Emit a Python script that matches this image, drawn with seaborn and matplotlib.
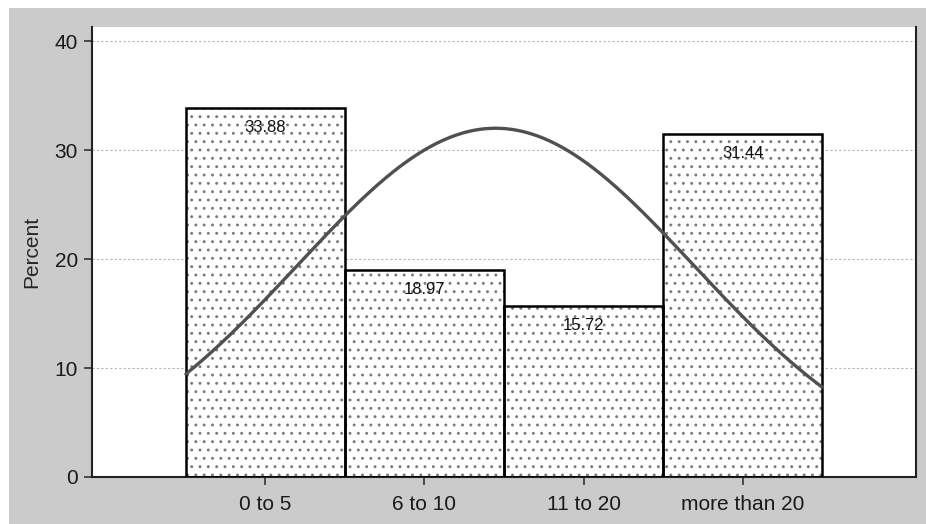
import numpy as np
import pandas as pd
import matplotlib
matplotlib.use("Agg")
import matplotlib.pyplot as plt
from matplotlib.patches import Rectangle
import seaborn as sns

# dados do histograma
categorias = ["0 to 5", "6 to 10", "11 to 20", "more than 20"]
codigos = [1, 2, 3, 4]
percentuais = [33.88, 18.97, 15.72, 31.44]
yticks = [0, 10, 20, 30, 40]

sns.set_style("white")
plt.rcParams["font.family"] = ["Liberation Sans", "DejaVu Sans"]
plt.rcParams["hatch.linewidth"] = 0.9

df = pd.DataFrame({"categoria": categorias, "percentual": percentuais})

# curva normal a partir da media e desvio dos dados
cod = np.array(codigos, dtype=float)
p = np.array(percentuais) / np.sum(percentuais)
media = np.sum(cod * p)
dp = np.sqrt(np.sum(p * (cod - media) ** 2))
xs = np.linspace(cod[0] - 0.5, cod[-1] + 0.5, 300)
ys = 100 * np.exp(-0.5 * ((xs - media) / dp) ** 2) / (dp * np.sqrt(2 * np.pi))
curva = pd.DataFrame({"x": xs - cod[0], "y": ys})

fig = plt.figure(figsize=(9.26, 5.24), dpi=100)
fig.patch.set_facecolor("white")
fig.patches.append(Rectangle((9 / 926, 0), 1, 1 - 8 / 524, transform=fig.transFigure,
                             facecolor="#cbcbcb", edgecolor="none", zorder=-10))
ax = fig.add_axes([92 / 926, 1 - 477 / 524, (916 - 92) / 926, (477 - 27) / 524])
ax.set_facecolor("white")

for y in yticks[1:]:
    ax.axhline(y, color="#b5b5b5", linestyle=(0, (2, 2)), linewidth=0.8, zorder=0)

sns.barplot(data=df, x="categoria", y="percentual", color="white", edgecolor="#7a7a7a",
            linewidth=0, width=1.0, hatch="..", ax=ax, zorder=2)
sns.barplot(data=df, x="categoria", y="percentual", fill=False, color="black",
            linewidth=1.8, width=1.0, ax=ax, zorder=3)

for i, v in enumerate(percentuais):
    ax.annotate(f"{v:.2f}", (i, v), xytext=(0, -14), textcoords="offset points",
                ha="center", va="center", fontsize=12, color="#111111", zorder=5)

sns.lineplot(data=curva, x="x", y="y", color="#505050", linewidth=2.4, ax=ax, zorder=4)

ax.set_xlim(-1.09, 4.09)
ax.set_ylim(0, 41.3)
ax.set_yticks(yticks)
ax.set_xlabel("")
ax.set_ylabel("Percent", fontsize=15, labelpad=10)
ax.tick_params(axis="both", direction="out", length=6, width=1.2, color="#333333",
               labelsize=15, labelcolor="#1a1a1a", pad=4)
ax.tick_params(axis="x", bottom=True, pad=7)
ax.tick_params(axis="y", left=True)

for lado in ["left", "bottom", "right"]:
    ax.spines[lado].set_visible(True)
    ax.spines[lado].set_color("#222222")
    ax.spines[lado].set_linewidth(1.5)
ax.spines["top"].set_visible(False)

fig.savefig("out.png", dpi=100)
